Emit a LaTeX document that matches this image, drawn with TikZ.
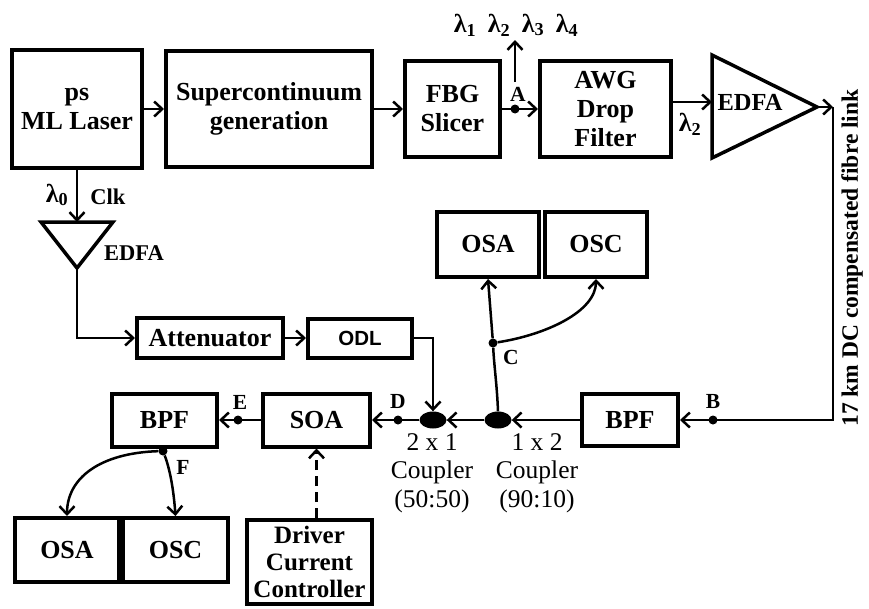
\documentclass[tikz,border=0pt]{standalone}
\usepackage{fontspec}
\setmainfont{Liberation Serif}
\newfontfamily\arialf{Liberation Sans}
\usetikzlibrary{arrows.meta,shapes.geometric}
\newcommand\fntBox{\fontsize{26}{29}\selectfont\bfseries}
\newcommand\fntLbl{\fontsize{21.5}{24}\selectfont\bfseries}
\newcommand\fntMid{\fontsize{22.5}{25}\selectfont\bfseries}
\newcommand\fntLam{\fontsize{26}{28}\selectfont\bfseries}
\newcommand\fntCpl{\fontsize{25.5}{28.5}\selectfont}
\newcommand\fntVert{\fontsize{23.5}{26}\selectfont\bfseries}
\begin{document}
\begin{tikzpicture}[x=1pt,y=-1pt,
  blk/.style={draw,line width=4pt,align=center,inner sep=0pt,font=\fntBox},
  tri/.style={draw,line width=3.5pt,line join=miter},
  arr/.style={line width=2.5pt,-{Straight Barb[length=8pt,width=15pt,line width=2.5pt]}},
  ln/.style={line width=2.5pt},
  dot/.style={circle,fill,inner sep=0pt,minimum size=9pt},
  cpl/.style={ellipse,fill,inner sep=0pt,minimum width=27pt,minimum height=17pt},
  lab/.style={font=\fntLbl,inner sep=0pt},
  mid/.style={font=\fntMid,inner sep=0pt},
  lam/.style={font=\fntLam,inner sep=0pt},
]
\useasboundingbox (0,0) rectangle (869,608);

% top row
\node[blk,minimum width=130pt,minimum height=118pt] (laser) at (77,109) {ps\\ML Laser};
\node[blk,minimum width=206pt,minimum height=116pt] (sc) at (269,109) {Supercontinuum\\generation};
\node[blk,minimum width=95pt,minimum height=96pt] (fbg) at (452.5,109) {FBG\\Slicer};
\node[blk,minimum width=131pt,minimum height=96pt] (awg) at (605.5,109) {AWG\\Drop\\Filter};
\draw[arr] (laser) -- (sc);
\draw[arr] (sc) -- (fbg);
\node[dot] (A) at (515,109) {};
\draw[arr] (fbg) -- (awg);
\node[lab] (labA) at (518,94) {A};
\coordinate (aup) at (515,82);
\coordinate (atop) at (515,40);
\draw[arr] (aup) -- (atop);
\node[lam] (l1) at (465,25) {λ\textsubscript{1}};
\node[lam] (l2) at (499,25) {λ\textsubscript{2}};
\node[lam] (l3) at (533,25) {λ\textsubscript{3}};
\node[lam] (l4) at (567,25) {λ\textsubscript{4}};

% right EDFA
\coordinate (e1) at (712,55);
\coordinate (e2) at (712,158);
\coordinate (e3) at (817,107);
\draw[tri] (e1) -- (e3) -- (e2) -- cycle;
\coordinate (ein) at (712,102);
\draw[arr] (awg.east |- ein) -- (ein);
\node[font=\fontsize{24.5}{26}\selectfont\bfseries,inner sep=0pt] (edfaR) at (750,102) {EDFA};
\node[lam] (lam2) at (690,124) {λ\textsubscript{2}};
\coordinate (k1) at (833,107);
\coordinate (k2) at (833,420);
\draw[arr] (e3) -- (k1);
\node[font=\fntVert,rotate=90,inner sep=0pt] (fibre) at (852,258) {17 km DC compensated fibre link};

% lower row
\node[blk,minimum width=96pt,minimum height=52pt] (bpfR) at (630,420) {BPF};
\draw[arr] (k1) -- (k2) -- (bpfR.east);
\node[dot] (B) at (713,420) {};
\node[lab] (labB) at (713,401) {B};
\node[cpl] (c12) at (498,420) {};
\node[cpl] (c21) at (433,420) {};
\draw[arr] (bpfR) -- (c12);
\draw[arr] (c12) -- (c21);
\node[blk,minimum width=107pt,minimum height=53pt] (soa) at (316.5,420) {SOA};
\node[dot] (D) at (398,420) {};
\draw[arr] (c21) -- (soa);
\node[lab] (labD) at (398,401) {D};
\node[blk,minimum width=105pt,minimum height=53pt] (bpfL) at (164.5,420) {BPF};
\node[dot] (E) at (238,420) {};
\draw[arr] (soa) -- (bpfL);
\node[lab] (labE) at (240,402) {E};
\node[font=\fntCpl,align=center,inner sep=0pt] (t21) at (432,473) {2 x 1\\Coupler\\(50:50)};
\node[font=\fntCpl,align=center,inner sep=0pt] (t12) at (537,473) {1 x 2\\Coupler\\(90:10)};

% clock branch
\coordinate (f1) at (41,222);
\coordinate (f2) at (113,222);
\coordinate (f3) at (77,268);
\draw[tri] (f1) -- (f2) -- (f3) -- cycle;
\coordinate (ftop) at (77,222);
\draw[arr] (laser) -- (ftop);
\node[lam] (lam0) at (57,195) {λ\textsubscript{0}};
\node[mid] (clk) at (108,197) {Clk};
\node[mid] (edfaL) at (134,253) {EDFA};
\node[blk,minimum width=146pt,minimum height=40pt] (att) at (210,338) {Attenuator};
\node[blk,font=\arialf\bfseries\fontsize{20.5}{24}\selectfont,minimum width=104pt,minimum height=39pt] (odl) at (360,338) {ODL};
\coordinate (fc) at (77,338);
\draw[arr] (f3) -- (fc) -- (att);
\draw[arr] (att) -- (odl);
\coordinate (oc) at (433,338);
\draw[arr] (odl.east) -- (oc) -- (c21.north);

% monitor C
\node[blk,minimum width=102pt,minimum height=65pt] (osa1) at (488,244.5) {OSA};
\node[blk,minimum width=102pt,minimum height=65pt] (osc1) at (596,244.5) {OSC};
\node[dot] (C) at (493,343) {};
\node[lab] (labC) at (511,357) {C};
\draw[ln] (c12.north) .. controls (497,385) and (494,365) .. (C);
\draw[arr] (C) -- (osa1.south);
\draw[arr] (C) .. controls (545,335) and (596,312) .. (osc1.south);

% monitor F
\node[blk,minimum width=104pt,minimum height=64pt] (osa2) at (67,550) {OSA};
\node[blk,minimum width=105pt,minimum height=64pt] (osc2) at (175.5,550) {OSC};
\node[dot] (F) at (163,451) {};
\node[lab] (labF) at (183,467) {F};
\draw[arr] (F) .. controls (100,453) and (67,478) .. (osa2.north);
\draw[arr] (F) .. controls (171,472) and (174,495) .. (osc2.north);

% driver
\node[blk,font=\fontsize{25}{27}\selectfont\bfseries,minimum width=125pt,minimum height=84pt] (drv) at (309.5,562) {Driver\\Current\\Controller};
\draw[arr,dash pattern=on 10pt off 6pt] (drv.north -| soa.south) -- (soa.south);
\end{tikzpicture}
\end{document}
